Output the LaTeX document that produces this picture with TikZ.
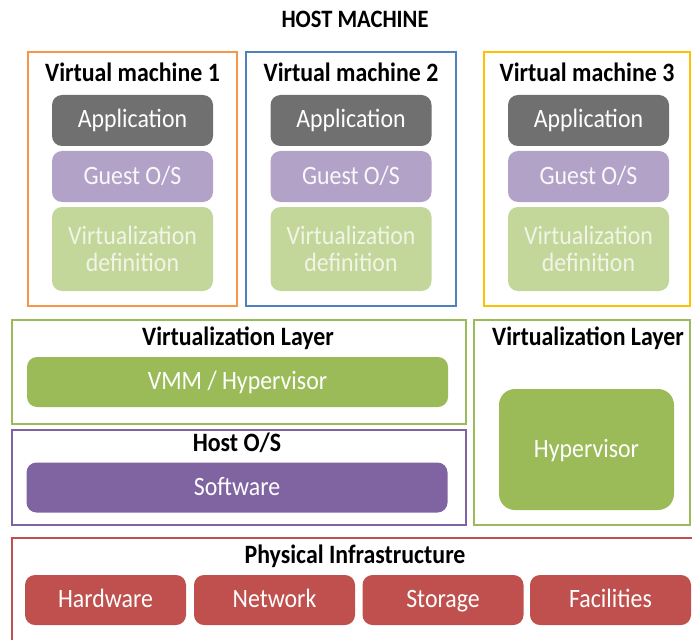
\documentclass[tikz,border=0pt]{standalone}
\usepackage{fontspec}
\setmainfont{Carlito}[FakeStretch=0.9]
\usetikzlibrary{positioning}
\definecolor{vmorange}{HTML}{F79646}
\definecolor{vmblue}{HTML}{4F81BD}
\definecolor{vmyellow}{HTML}{FFC000}
\definecolor{layergreen}{HTML}{9BBB59}
\definecolor{hostpurple}{HTML}{8064A2}
\definecolor{physred}{HTML}{C0504D}
\definecolor{appgray}{HTML}{707070}
\definecolor{guestlilac}{HTML}{B3A2C7}
\definecolor{defgreen}{HTML}{C4D79B}
\tikzset{%
	frame/.style    	= {draw, line width = 2.6pt, rectangle, inner sep = 0pt}, % outer boxes
	tile/.style     	= {rectangle, rounded corners = 10pt, text = white, inner sep = 0pt,
	                   	   font = \fontsize{26.5}{27}\selectfont},
	onetile/.style  	= {tile, text height = 20pt, text depth = 5pt}, % one line of text
	vmtile/.style   	= {onetile, minimum width = 161pt},
	deftile/.style  	= {tile, align = center, minimum width = 161pt, minimum height = 84pt},
	heading/.style  	= {font = \bfseries\fontsize{26.5}{28}\selectfont} % box titles
}
\begin{document}
\begin{tikzpicture}[x=1pt, y=-1pt]
	\clip (0, 0) rectangle (692, 639);
	\node (host) at (355, 19) [font=\bfseries\fontsize{25}{26}\selectfont] {HOST MACHINE};

	% Virtual machines
	\draw
	node at (132.5, 179) [frame, vmorange, minimum width=209pt, minimum height=254pt] (vmone) {}
	node at (351, 179) [frame, vmblue, minimum width=210pt, minimum height=254pt] (vmtwo) {}
	node at (587, 179) [frame, vmyellow, minimum width=206pt, minimum height=254pt] (vmthree) {}
	node at (132.5, 72) [heading] (vmonetitle) {Virtual machine 1}
	node at (351, 72) [heading] (vmtwotitle) {Virtual machine 2}
	node at (587, 72) [heading] (vmthreetitle) {Virtual machine 3}
	;
	\draw
	node at (132.5, 120.5) [vmtile, fill=appgray, minimum height=51pt] (appone) {Application}
	node at (351, 120.5) [vmtile, fill=appgray, minimum height=51pt] (apptwo) {Application}
	node at (588.5, 120.5) [vmtile, fill=appgray, minimum height=51pt] (appthree) {Application}
	node at (132.5, 176.5) [vmtile, fill=guestlilac, minimum height=51pt, text=white!92!guestlilac] (guestone) {Guest O/S}
	node at (351, 176.5) [vmtile, fill=guestlilac, minimum height=51pt, text=white!92!guestlilac] (guesttwo) {Guest O/S}
	node at (588.5, 176.5) [vmtile, fill=guestlilac, minimum height=51pt, text=white!92!guestlilac] (guestthree) {Guest O/S}
	node at (132.5, 249) [deftile, fill=defgreen, text=white!75!defgreen] (defone) {Virtualization\\definition}
	node at (351, 249) [deftile, fill=defgreen, text=white!75!defgreen] (deftwo) {Virtualization\\definition}
	node at (588.5, 249) [deftile, fill=defgreen, text=white!75!defgreen] (defthree) {Virtualization\\definition}
	;

	% Hosted virtualization (left) and bare-metal (right)
	\draw
	node at (239, 372) [frame, layergreen, minimum width=454pt, minimum height=104pt] (virtlayer) {}
	node at (238, 338) [heading] (virttitle) {Virtualization Layer}
	node at (237.5, 382) [onetile, fill=layergreen, minimum width=421pt, minimum height=50pt] (vmm) {VMM / Hypervisor}
	node at (239, 477.5) [frame, hostpurple, minimum width=454pt, minimum height=95pt] (hostos) {}
	node at (237, 443) [heading] (hosttitle) {Host O/S}
	node at (237, 487.5) [onetile, fill=hostpurple, minimum width=421pt, minimum height=50pt] (software) {Software}
	node at (582, 422.5) [frame, layergreen, minimum width=216pt, minimum height=205pt] (baremetal) {}
	node at (588, 338) [heading] (baretitle) {Virtualization Layer}
	node at (586.5, 449.5) [onetile, fill=layergreen, rounded corners=16pt, minimum width=175pt, minimum height=121pt] (hypervisor) {Hypervisor}
	;

	% Physical infrastructure
	\draw
	node at (355, 598) [frame, physred, minimum width=686pt, minimum height=120pt] (physical) {}
	node at (355, 556) [heading] (phystitle) {Physical Infrastructure}
	node at (105.5, 600) [vmtile, fill=physred, minimum height=50pt] (hardware) {Hardware}
	node at (274.5, 600) [vmtile, fill=physred, minimum height=50pt] (network) {Network}
	node at (443, 600) [vmtile, fill=physred, minimum height=50pt] (storage) {Storage}
	node at (610.5, 600) [vmtile, fill=physred, minimum height=50pt] (facilities) {Facilities}
	;
\end{tikzpicture}
\end{document}
